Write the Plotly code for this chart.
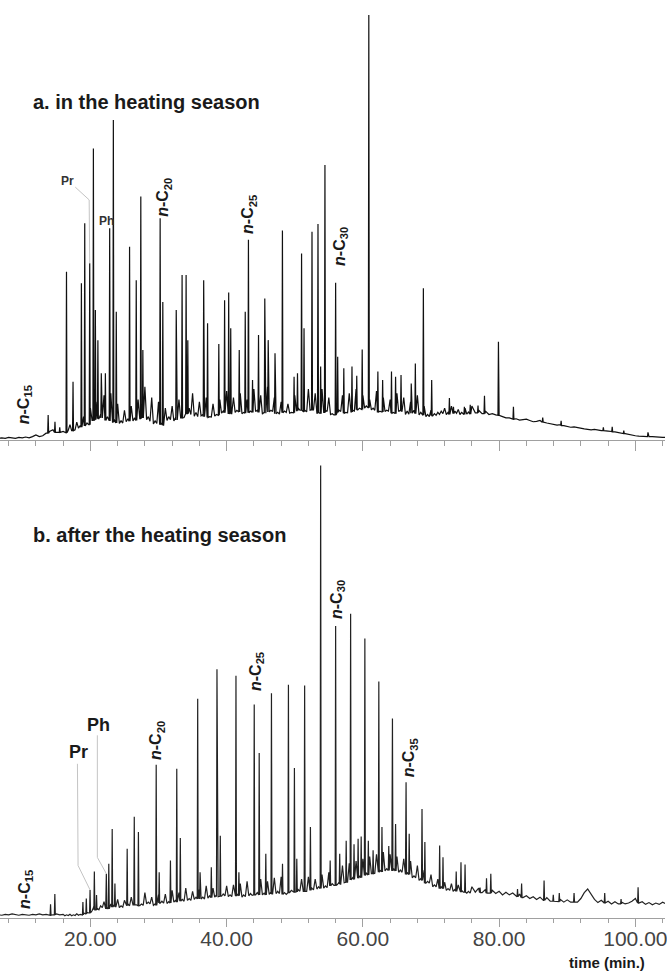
import numpy as np
import plotly.graph_objects as go

# ---------------- data (retention time in min, relative intensity %) ----------------
BASE_T0 = 6.5      # first baseline sample (min)
MID_T0 = 16.25     # first in-between noise sample (min)
STEP = 0.5         # sample spacing (min)

# panel a: in the heating season - baseline / unresolved hump (with noise)
a_base = [
    0.4, 0.5, 0.4, 0.6, 0.5, 0.4, 0.6, 0.5, 0.7, 0.5,
    0.8, 1.2, 0.8, 1.0, 1.6, 2.0, 2.4, 1.8, 2.6, 2.0,
    2.8, 3.6, 2.8, 4.2, 3.4, 5.5, 4.0, 7.5, 5.5, 9.0,
    6.0, 10.5, 5.5, 11.0, 4.8, 8.5, 4.5, 7.0, 5.0, 8.0,
    5.2, 9.5, 6.0, 12.5, 5.5, 10.0, 4.5, 9.0, 4.0, 7.5,
    5.5, 8.0, 5.2, 9.5, 6.0, 13.0, 7.5, 11.0, 6.5, 9.0,
    6.0, 10.0, 5.5, 8.5, 6.0, 9.5, 6.8, 11.5, 6.5, 10.0,
    7.0, 11.0, 6.5, 9.5, 6.8, 12.0, 7.0, 10.5, 6.5, 12.5,
    7.0, 10.0, 6.5, 9.0, 6.8, 8.5, 6.5, 10.5, 7.5, 11.5,
    7.0, 12.0, 7.5, 11.0, 6.5, 12.0, 7.0, 10.0, 6.2, 9.0,
    7.0, 10.5, 6.5, 11.0, 7.0, 12.0, 7.5, 10.5, 8.0, 9.5,
    7.5, 11.5, 6.8, 10.0, 7.0, 9.5, 6.5, 11.0, 7.0, 10.0,
    6.8, 9.0, 7.0, 10.5, 6.5, 8.0, 6.0, 7.0, 6.2, 6.5,
    6.8, 7.5, 6.5, 8.0, 6.8, 7.2, 6.5, 7.5, 6.6, 8.0,
    6.4, 7.0, 6.2, 6.8, 6.0, 6.2, 5.9, 5.8, 5.5, 5.2,
    5.2, 4.9, 5.0, 4.7, 4.8, 4.9, 4.6, 4.3, 4.4, 4.6,
    4.2, 4.0, 3.8, 3.6, 3.5, 3.6, 3.4, 3.2, 3.0, 3.1,
    2.9, 2.7, 2.6, 2.5, 2.4, 2.5, 2.3, 2.2, 2.2, 2.1,
    2.0, 1.9, 1.8, 1.6, 1.5, 1.3, 1.2, 1.0, 0.9, 0.9,
    0.9, 0.8, 0.8, 0.7, 0.7, 0.6, 0.6,
]
# panel a: in-between noise minima, 16.25 ... 75.75 min
a_mid = [
    1.7, 2.3, 2.2, 2.4, 2.8, 3.0, 3.3, 3.6, 4.6, 4.8,
    5.0, 5.2, 4.6, 4.5, 4.2, 4.0, 3.9, 4.0, 4.3, 4.4,
    4.5, 4.6, 5.0, 5.2, 4.8, 4.4, 3.8, 3.9, 3.6, 3.5,
    4.6, 4.8, 4.5, 4.7, 5.2, 5.3, 6.2, 6.0, 5.6, 5.5,
    5.7, 5.5, 5.3, 5.4, 5.6, 5.8, 6.3, 6.4, 6.1, 6.2,
    6.5, 6.6, 6.2, 6.3, 6.4, 6.5, 6.7, 6.5, 6.1, 6.3,
    6.6, 6.7, 6.2, 6.1, 6.4, 6.5, 6.3, 6.4, 6.9, 7.0,
    6.7, 6.6, 7.0, 7.1, 6.3, 6.2, 6.5, 6.7, 6.0, 5.9,
    6.5, 6.7, 6.3, 6.4, 6.6, 6.8, 7.1, 7.2, 7.5, 7.6,
    7.1, 7.0, 6.5, 6.6, 6.7, 6.8, 6.3, 6.2, 6.7, 6.8,
    6.0, 6.1, 6.3, 6.2, 5.9, 5.8, 5.5, 5.5, 5.7, 5.8,
    6.0, 6.2, 6.0, 6.0, 6.2, 6.3, 6.0, 6.0, 6.1, 6.1,
]
# panel a: resolved peaks
a_peak_t = [13.8, 14.8, 15.5, 16.49, 17.45, 18.68, 19.17, 19.9, 20.44, 20.73,
            21.1, 21.6, 22.2, 22.83, 23.37, 23.8, 25.75, 26.73, 27.4, 27.7,
            30.24, 30.63, 32.6, 33.46, 34.05, 34.3, 36.63, 37.2, 38.85, 39.7,
            40.3, 40.6, 41.85, 42.73, 43.2, 43.8, 44.68, 45.6, 46.1, 47.1,
            48.19, 49.9, 50.4, 51.0, 51.36, 52.53, 53.41, 53.8, 54.43, 56.0,
            56.3, 57.2, 58.4, 59.1, 59.9, 60.87, 62.2, 62.9, 64.2, 64.8,
            65.6, 67.1, 67.7, 68.88, 70.1, 72.7, 73.3, 74.9, 75.76, 76.9,
            77.85, 79.9, 82.1, 86.4, 89.1, 95.3, 96.6, 98.3, 101.85]
a_peak_v = [5.9, 4.3, 3.0, 39.6, 13.7, 36.9, 51.0, 41.6, 68.6, 30.6,
            23.5, 15.7, 15.7, 49.8, 75.3, 30.2, 45.5, 37.6, 57.3, 21.2,
            52.2, 32.5, 30.6, 38.8, 38.8, 23.5, 37.6, 27.5, 22.6, 32.9,
            34.7, 26.3, 21.2, 30.2, 47.1, 14.1, 24.7, 33.3, 23.5, 20.4,
            49.3, 14.9, 15.7, 43.9, 26.3, 49.0, 50.8, 17.3, 64.7, 37.0,
            19.6, 16.9, 17.3, 15.1, 21.3, 100.0, 16.1, 14.1, 16.1, 14.9,
            15.3, 13.3, 18.0, 35.7, 14.1, 9.9, 7.8, 7.8, 8.3, 8.1,
            10.4, 23.1, 7.8, 5.3, 4.5, 3.0, 3.1, 2.2, 1.8]

# panel b: after the heating season - baseline / unresolved hump (with noise)
b_base = [
    0.6, 0.5, 0.7, 0.6, 0.8, 0.6, 0.5, 0.7, 0.6, 0.5,
    0.7, 0.6, 0.8, 0.6, 0.7, 0.5, 0.6, 0.8, 0.6, 0.7,
    0.6, 0.7, 0.6, 0.8, 0.7, 1.0, 1.2, 1.8, 2.4, 2.0,
    2.6, 3.5, 2.2, 3.0, 2.8, 4.0, 2.6, 3.8, 3.0, 4.5,
    3.2, 4.8, 3.0, 5.5, 3.4, 4.5, 3.0, 5.0, 3.6, 5.2,
    3.5, 6.0, 3.8, 5.5, 4.0, 6.5, 4.2, 5.8, 4.5, 6.2,
    4.5, 7.0, 4.8, 6.5, 5.0, 7.5, 5.2, 7.0, 5.0, 7.2,
    5.2, 7.5, 5.0, 8.0, 5.3, 7.0, 5.5, 8.5, 5.4, 8.0,
    5.6, 8.8, 5.8, 9.0, 5.5, 8.0, 6.0, 9.5, 6.2, 8.5,
    6.2, 9.0, 6.5, 8.5, 6.8, 9.5, 7.0, 10.0, 7.5, 10.5,
    7.8, 11.5, 8.2, 12.0, 8.8, 12.5, 9.2, 13.0, 9.8, 13.5,
    10.2, 14.0, 10.5, 14.5, 10.8, 14.0, 10.8, 13.5, 10.5, 13.0,
    10.0, 12.5, 9.2, 11.5, 8.6, 10.5, 8.0, 9.5, 7.2, 8.5,
    6.8, 7.8, 6.4, 7.5, 6.2, 7.2, 6.0, 7.0, 5.8, 6.8,
    5.6, 6.5, 5.5, 6.2, 5.4, 6.0, 5.3, 5.8, 5.0, 5.6,
    5.0, 5.4, 4.6, 5.2, 4.4, 4.8, 4.2, 4.6, 4.0, 4.5,
    3.8, 4.4, 3.6, 4.2, 3.5, 4.0, 3.4, 3.9, 3.4, 3.8,
    3.4, 4.2, 5.5, 6.3, 5.2, 4.0, 3.3, 3.8, 3.2, 3.6,
    3.0, 3.5, 3.0, 3.4, 3.0, 3.2, 3.6, 4.2, 3.2, 3.5,
    2.9, 3.3, 2.8, 3.2, 2.9, 3.4, 3.0,
]
# panel b: in-between noise minima, 16.25 ... 75.75 min
b_mid = [
    0.4, 0.45, 0.4, 0.45, 0.5, 0.55, 0.8, 1.0, 1.5, 1.7,
    1.7, 2.2, 1.9, 1.9, 2.3, 2.4, 2.2, 2.3, 2.6, 2.6,
    2.8, 2.8, 2.6, 2.7, 3.0, 3.0, 2.7, 2.7, 3.2, 3.2,
    3.1, 3.2, 3.4, 3.4, 3.6, 3.6, 3.8, 3.8, 4.0, 4.1,
    4.1, 4.1, 4.3, 4.4, 4.5, 4.6, 4.7, 4.8, 4.6, 4.6,
    4.7, 4.8, 4.5, 4.6, 4.8, 4.9, 5.0, 5.0, 5.0, 5.0,
    5.1, 5.2, 5.3, 5.3, 5.1, 5.1, 5.5, 5.6, 5.7, 5.8,
    5.8, 5.8, 6.0, 6.1, 6.3, 6.4, 6.5, 6.6, 7.0, 7.1,
    7.3, 7.4, 7.7, 7.8, 8.3, 8.4, 8.7, 8.8, 9.3, 9.4,
    9.7, 9.8, 10.0, 10.1, 10.3, 10.4, 10.3, 10.3, 10.0, 10.0,
    9.5, 9.5, 8.8, 8.8, 8.2, 8.2, 7.6, 7.6, 6.8, 6.8,
    6.4, 6.4, 6.0, 6.0, 5.8, 5.8, 5.6, 5.6, 5.4, 5.4,
]
# panel b: resolved peaks
b_peak_t = [14.15, 14.78, 18.9, 19.4, 19.95, 20.58, 20.9, 22.34, 22.7, 23.2,
            23.6, 25.4, 26.44, 27.05, 29.66, 30.1, 31.75, 32.68, 33.2, 35.75,
            36.1, 37.75, 38.58, 39.07, 41.37, 41.8, 44.05, 44.78, 45.75, 46.58,
            48.2, 49.07, 49.95, 50.3, 51.45, 52.3, 53.8, 55.2, 56.0, 56.6,
            57.55, 58.2, 58.7, 59.3, 59.75, 60.29, 60.8, 61.5, 62.34, 62.8,
            63.8, 64.34, 64.8, 66.34, 66.8, 68.68, 69.1, 71.27, 71.76, 73.7,
            74.4, 75.0, 77.2, 78.15, 78.78, 82.7, 83.3, 86.6, 87.95, 88.83,
            91.0, 95.5, 97.9, 100.4]
b_peak_v = [2.9, 5.2, 3.4, 4.2, 6.1, 10.2, 5.0, 9.7, 11.9, 19.6,
            7.5, 15.2, 22.3, 18.9, 33.8, 10.0, 12.6, 32.9, 17.6, 48.4,
            10.0, 11.1, 54.9, 18.1, 53.5, 10.0, 47.1, 36.4, 14.1, 49.6,
            11.9, 51.5, 33.1, 13.0, 51.3, 20.0, 100.0, 12.6, 64.5, 14.1,
            17.0, 67.2, 16.2, 17.4, 17.9, 61.7, 17.0, 14.9, 52.2, 20.0,
            15.8, 44.0, 20.7, 29.9, 18.5, 24.0, 16.7, 15.9, 13.3, 10.2,
            12.2, 11.7, 6.6, 8.7, 9.7, 6.3, 7.5, 8.2, 5.0, 5.4,
            5.4, 5.4, 4.1, 6.7]

# peak labels: text, retention time, label height
a_labels = [("<b><i>n</i>-C<sub>15</sub></b>", 10.27, 8.2),
            ("<b><i>n</i>-C<sub>20</sub></b>", 30.73, 57.1),
            ("<b><i>n</i>-C<sub>25</sub></b>", 43.31, 53.0),
            ("<b><i>n</i>-C<sub>30</sub></b>", 56.60, 45.6)]
b_labels = [("<b><i>n</i>-C<sub>15</sub></b>", 10.39, 6.3),
            ("<b><i>n</i>-C<sub>20</sub></b>", 29.73, 39.2),
            ("<b><i>n</i>-C<sub>25</sub></b>", 44.29, 54.5),
            ("<b><i>n</i>-C<sub>30</sub></b>", 56.24, 70.3),
            ("<b><i>n</i>-C<sub>35</sub></b>", 66.98, 35.3)]
# isoprenoid labels (Pr = pristane, Ph = phytane): text, time, height
a_iso = [("Pr", 16.6, 60.9), ("Ph", 22.34, 51.5)]
b_iso = [("Pr", 18.19, 36.7), ("Ph", 21.17, 42.6)]
# leader lines from the isoprenoid labels to their peaks
a_pr_leader_t = [17.78, 19.82, 19.9]
a_pr_leader_v = [59.5, 56.5, 41.6]
b_pr_leader_t = [18.10, 18.19, 19.95]
b_pr_leader_v = [34.0, 11.5, 6.1]
b_ph_leader_t = [21.02, 21.02, 22.34]
b_ph_leader_v = [40.3, 13.3, 9.7]

tick_major = [20, 40, 60, 80, 100]
tick_text = ["20.00", "40.00", "60.00", "80.00", "100.00"]

PEAK_HALF_WIDTH = 0.07   # min, half width of a drawn peak foot


def chromatogram(base, mid, peak_t, peak_v):
    samples = [(BASE_T0 + STEP * i, v) for i, v in enumerate(base)]
    samples += [(MID_T0 + STEP * i, v) for i, v in enumerate(mid)]
    samples.sort()
    st = [s[0] for s in samples]
    pts = [(t, v) for t, v in samples
           if min(abs(t - p) for p in peak_t) > PEAK_HALF_WIDTH]
    for t, v in zip(peak_t, peak_v):
        i = int(np.searchsorted(st, t))
        foot = min(samples[max(i - 1, 0)][1], samples[min(i, len(samples) - 1)][1])
        pts += [(t - PEAK_HALF_WIDTH, foot), (t, v), (t + PEAK_HALF_WIDTH, foot)]
    pts.sort()
    return [p[0] for p in pts], [p[1] for p in pts]


FONT = "Liberation Sans, Arial, Helvetica, sans-serif"
W, H = 667, 973
XR = [6.73, 104.35]

ax_x, ay_y = chromatogram(a_base, a_mid, a_peak_t, a_peak_v)
bx_x, by_y = chromatogram(b_base, b_mid, b_peak_t, b_peak_v)

fig = go.Figure()
fig.add_trace(go.Scatter(x=ax_x, y=ay_y, mode="lines", xaxis="x", yaxis="y",
                         line=dict(color="#111111", width=1.2), hoverinfo="skip"))
fig.add_trace(go.Scatter(x=bx_x, y=by_y, mode="lines", xaxis="x2", yaxis="y2",
                         line=dict(color="#222222", width=1.2), hoverinfo="skip"))

for lt, lv, ax, ay in [(a_pr_leader_t, a_pr_leader_v, "x", "y"),
                       (b_pr_leader_t, b_pr_leader_v, "x2", "y2"),
                       (b_ph_leader_t, b_ph_leader_v, "x2", "y2")]:
    fig.add_trace(go.Scatter(x=lt, y=lv, mode="lines", xaxis=ax, yaxis=ay,
                             line=dict(color="#c4c4c4", width=1), hoverinfo="skip"))

annotations = []
for txt, t, v in a_labels:
    annotations.append(dict(x=t, y=v, xref="x", yref="y", text=txt, textangle=-90,
                            showarrow=False, xanchor="center", yanchor="middle",
                            font=dict(family=FONT, size=16, color="#1a1a1a")))
for txt, t, v in b_labels:
    annotations.append(dict(x=t, y=v, xref="x2", yref="y2", text=txt, textangle=-90,
                            showarrow=False, xanchor="center", yanchor="middle",
                            font=dict(family=FONT, size=16, color="#1a1a1a")))
for txt, t, v in a_iso:
    annotations.append(dict(x=t, y=v, xref="x", yref="y", text="<b>%s</b>" % txt,
                            showarrow=False, xanchor="center", yanchor="middle",
                            font=dict(family=FONT, size=12, color="#333333")))
for txt, t, v in b_iso:
    annotations.append(dict(x=t, y=v, xref="x2", yref="y2", text="<b>%s</b>" % txt,
                            showarrow=False, xanchor="center", yanchor="middle",
                            font=dict(family=FONT, size=18, color="#1a1a1a")))

annotations += [
    dict(x=31 / W, y=1 - 101.5 / H, xref="paper", yref="paper",
         text="<b>a. in the heating season</b>", showarrow=False,
         xanchor="left", yanchor="middle", font=dict(family=FONT, size=20, color="#1a1a1a")),
    dict(x=31 / W, y=1 - 535 / H, xref="paper", yref="paper",
         text="<b>b. after the heating season</b>", showarrow=False,
         xanchor="left", yanchor="middle", font=dict(family=FONT, size=20, color="#1a1a1a")),
    dict(x=649 / W, y=1 - 962 / H, xref="paper", yref="paper",
         text="<b>time (min.)</b>", showarrow=False,
         xanchor="right", yanchor="middle", font=dict(family=FONT, size=15, color="#1a1a1a")),
]

axis_common = dict(range=XR, showgrid=False, zeroline=False, showline=True,
                   linecolor="#a0a0a0", linewidth=1, ticks="outside", tickcolor="#a0a0a0",
                   tickwidth=1, ticklen=8, tickmode="array", tickvals=tick_major,
                   minor=dict(dtick=4, tick0=0, ticks="outside", ticklen=4,
                              tickcolor="#a0a0a0", tickwidth=1, showgrid=False),
                   fixedrange=True)

a_axis_px, b_axis_px = 440, 917.5   # vertical pixel of each panel's time axis
a_top = 425.0 / 100.0               # px per intensity unit, panel a
b_top = 452.0 / 100.0               # px per intensity unit, panel b

fig.update_layout(
    width=W, height=H, margin=dict(l=0, r=0, t=0, b=0),
    paper_bgcolor="white", plot_bgcolor="white", showlegend=False,
    xaxis=dict(axis_common, domain=[0, 1], anchor="y", showticklabels=False, ticklen=10,
               minor=dict(dtick=4, tick0=0, ticks="outside", ticklen=5,
                          tickcolor="#a0a0a0", tickwidth=1, showgrid=False)),
    yaxis=dict(domain=[1 - a_axis_px / H, 1], range=[0, a_axis_px / a_top],
               visible=False, fixedrange=True),
    xaxis2=dict(axis_common, domain=[0, 1], anchor="y2", showticklabels=True,
                ticktext=tick_text, ticklabeloverflow="allow", ticklabelstandoff=-6,
                tickfont=dict(family=FONT, size=21, color="#444444")),
    yaxis2=dict(domain=[1 - b_axis_px / H, 1 - 455 / H],
                range=[0, (b_axis_px - 455) / b_top], visible=False, fixedrange=True),
    annotations=annotations,
)

fig.write_html(
    "out.html",
    config={"displayModeBar": False},
    post_script="document.body.style.margin='0';document.body.style.padding='0';"
                "document.body.style.overflow='hidden';",
)
